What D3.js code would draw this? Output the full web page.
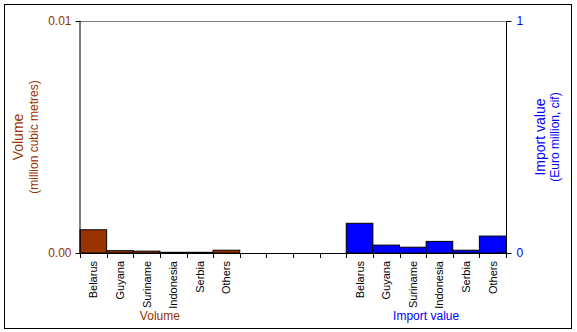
<!DOCTYPE html>
<html><head><meta charset="utf-8">
<script src="https://cdn.jsdelivr.net/npm/d3@7"></script>
<style>body{margin:0;background:#fff}svg{display:block;font-family:"Liberation Sans",Arial,sans-serif}</style>
</head><body><svg id="c" width="577" height="332"></svg>
<script>
const countries = ["Belarus","Guyana","Suriname","Indonesia","Serbia","Others"];
const volumeValues = [0.00100, 0.00010, 0.00008, 0.00003, 0.00003, 0.00012];
const importValues = [0.128, 0.034, 0.025, 0.050, 0.012, 0.073];
const leftTicks = [0, 0.01];
const leftTickLabels = ["0.00", "0.01"];
const rightTicks = [0, 1];
const rightTickLabels = ["0", "1"];
const groupLabels = ["Volume", "Import value"];

const brown = "#993300", blue = "#0000ff";
const svg = d3.select("#c");
const L = 80, R = 506, T = 21, B = 253;

svg.append("rect").attr("x",4.5).attr("y",4.5).attr("width",567).attr("height",324)
  .attr("fill","none").attr("stroke","#000");

const slots = [];
countries.forEach(c => slots.push("v_" + c));
for (let i = 0; i < 4; i++) slots.push("gap" + i);
countries.forEach(c => slots.push("i_" + c));

const x = d3.scaleBand().domain(slots).range([L, R]).padding(0);
const yL = d3.scaleLinear().domain([0, 0.01]).range([B, T]);
const yR = d3.scaleLinear().domain([0, 1]).range([B, T]);

// top gridline
svg.append("line").attr("x1",L).attr("x2",R).attr("y1",T+0.5).attr("y2",T+0.5).attr("stroke","#808080");

// bars
svg.append("g").selectAll("rect").data(countries).join("rect")
  .attr("x", d => x("v_" + d)).attr("width", x.bandwidth())
  .attr("y", (d,i) => yL(volumeValues[i])).attr("height", (d,i) => B - yL(volumeValues[i]))
  .attr("fill", brown).attr("stroke", "#000").attr("stroke-width", 1);
svg.append("g").selectAll("rect").data(countries).join("rect")
  .attr("x", d => x("i_" + d)).attr("width", x.bandwidth())
  .attr("y", (d,i) => yR(importValues[i])).attr("height", (d,i) => B - yR(importValues[i]))
  .attr("fill", blue).attr("stroke", "#000").attr("stroke-width", 1);

// x axis line and ticks
svg.append("line").attr("x1",L).attr("x2",R).attr("y1",B+0.5).attr("y2",B+0.5).attr("stroke","#000");
const bounds = slots.map(s => x(s)).concat([R]);
svg.append("g").selectAll("line").data(bounds).join("line")
  .attr("x1", d => Math.round(d)+0.5).attr("x2", d => Math.round(d)+0.5)
  .attr("y1", B).attr("y2", B+5).attr("stroke","#000");

// category labels
const catG = svg.append("g").attr("font-size", 11).attr("fill", "#000");
countries.forEach(c => {
  ["v_","i_"].forEach(p => {
    const cx = x(p + c) + x.bandwidth()/2 + 4;
    catG.append("text").attr("transform", `translate(${cx},${B+8}) rotate(-90)`)
      .attr("text-anchor","end").text(c);
  });
});

// left axis
const axL = svg.append("g").attr("transform",`translate(${L+0.5},0)`)
  .call(d3.axisLeft(yL).tickValues(leftTicks).tickSize(5).tickFormat((d,i) => leftTickLabels[i]));
axL.select(".domain").attr("stroke","#000").attr("d", `M-0.5,${T}V${B}`);
axL.selectAll(".tick line").attr("stroke","#000");
axL.selectAll(".tick text").attr("fill", brown).attr("font-size", 12).attr("font-family","Liberation Sans, Arial").attr("x",-9);

// right axis
const axR = svg.append("g").attr("transform",`translate(${R+0.5},0)`)
  .call(d3.axisRight(yR).tickValues(rightTicks).tickSize(5).tickFormat((d,i) => rightTickLabels[i]));
axR.select(".domain").attr("stroke","#000").attr("d", `M0,${T}V${B}`);
axR.selectAll(".tick line").attr("stroke","#000");
axR.selectAll(".tick text").attr("fill", blue).attr("font-size", 12).attr("font-family","Liberation Sans, Arial").attr("x",10);

// axis titles
const midY = (T + B) / 2;
svg.append("text").attr("transform",`translate(23,${midY}) rotate(-90)`).attr("text-anchor","middle")
  .attr("fill",brown).attr("font-size",14).text("Volume");
svg.append("text").attr("transform",`translate(38,${midY}) rotate(-90)`).attr("text-anchor","middle")
  .attr("fill",brown).attr("font-size",12).text("(million cubic metres)");
svg.append("text").attr("transform",`translate(545,${midY}) rotate(-90)`).attr("text-anchor","middle")
  .attr("fill",blue).attr("font-size",14).text("Import value");
svg.append("text").attr("transform",`translate(559,${midY}) rotate(-90)`).attr("text-anchor","middle")
  .attr("fill",blue).attr("font-size",12).text("(Euro million, cif)");

// group labels
const vMid = (x("v_Belarus") + x("v_Others") + x.bandwidth()) / 2;
const iMid = (x("i_Belarus") + x("i_Others") + x.bandwidth()) / 2;
svg.append("text").attr("x", vMid).attr("y", 320).attr("text-anchor","middle")
  .attr("fill", brown).attr("font-size", 12).text(groupLabels[0]);
svg.append("text").attr("x", iMid).attr("y", 320).attr("text-anchor","middle")
  .attr("fill", blue).attr("font-size", 12).text(groupLabels[1]);
</script></body></html>
